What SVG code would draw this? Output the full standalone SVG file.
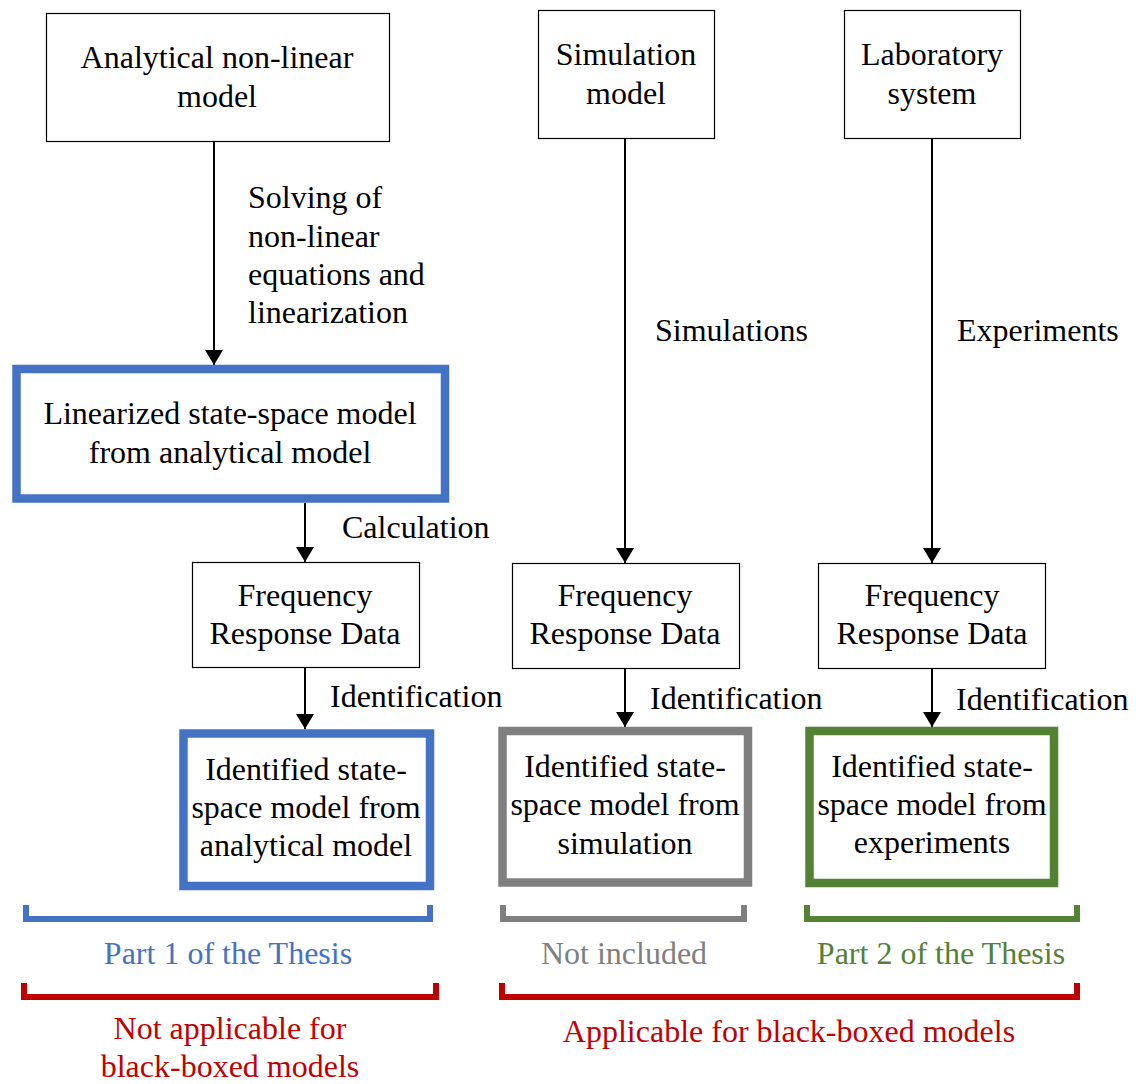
<svg xmlns="http://www.w3.org/2000/svg" width="1136" height="1084" viewBox="0 0 1136 1084">
<defs>
<marker id="ah" viewBox="0 0 15 18" refX="15" refY="9" markerWidth="15" markerHeight="18" markerUnits="userSpaceOnUse" orient="auto">
<path d="M0,0 L15,9 L0,18 z" fill="#000"/>
</marker>
<style>
text{font-family:"Liberation Serif","Times New Roman",serif;font-size:32px;fill:#000}
.c{text-anchor:middle}
.thin{fill:#fff;stroke:#000;stroke-width:1.2}
.blue{fill:#fff;stroke:#4472C4;stroke-width:8.5}
.gray{fill:#fff;stroke:#7F7F7F;stroke-width:8.5}
.green{fill:#fff;stroke:#548235;stroke-width:8.5}
.conn{stroke:#000;stroke-width:2;fill:none;marker-end:url(#ah)}
.br{fill:none;stroke-width:6}
</style>
</defs>
<rect width="1136" height="1084" fill="#fff"/>
<g id="connectors">
<line class="conn" x1="214" y1="141" x2="214" y2="365"/>
<line class="conn" x1="305" y1="503" x2="305" y2="562"/>
<line class="conn" x1="305" y1="667" x2="305" y2="729"/>
<line class="conn" x1="625" y1="138" x2="625" y2="563"/>
<line class="conn" x1="625" y1="668" x2="625" y2="727"/>
<line class="conn" x1="932" y1="138" x2="932" y2="563"/>
<line class="conn" x1="932" y1="668" x2="932" y2="727"/>
<text x="248" y="208">Solving of</text>
<text x="248" y="247">non-linear</text>
<text x="248" y="285">equations and</text>
<text x="248" y="323">linearization</text>
<text x="655" y="341">Simulations</text>
<text x="957" y="341">Experiments</text>
<text x="342" y="538">Calculation</text>
<text x="330" y="707">Identification</text>
<text x="650" y="709">Identification</text>
<text x="956" y="710">Identification</text>
</g>
<g id="analytical">
<rect class="thin" x="46.5" y="13.5" width="343" height="128"/>
<text class="c" x="217" y="68">Analytical non-linear</text>
<text class="c" x="217" y="107">model</text>
</g>
<g id="simulation">
<rect class="thin" x="538.5" y="10.5" width="176" height="128"/>
<text class="c" x="626" y="65">Simulation</text>
<text class="c" x="626" y="104">model</text>
</g>
<g id="laboratory">
<rect class="thin" x="844.5" y="10.5" width="176" height="128"/>
<text class="c" x="932" y="65">Laboratory</text>
<text class="c" x="932" y="104">system</text>
</g>
<g id="linearized">
<rect class="blue" x="16.5" y="369" width="428.5" height="129.5"/>
<text class="c" x="230" y="424">Linearized state-space model</text>
<text class="c" x="230" y="463">from analytical model</text>
</g>
<g id="frd1">
<rect class="thin" x="192.5" y="562.5" width="227" height="105"/>
<text class="c" x="305" y="606">Frequency</text>
<text class="c" x="305" y="644">Response Data</text>
</g>
<g id="frd2">
<rect class="thin" x="512.5" y="563.5" width="227" height="105"/>
<text class="c" x="625" y="606">Frequency</text>
<text class="c" x="625" y="644">Response Data</text>
</g>
<g id="frd3">
<rect class="thin" x="818.5" y="563.5" width="227" height="105"/>
<text class="c" x="932" y="606">Frequency</text>
<text class="c" x="932" y="644">Response Data</text>
</g>
<g id="ident1">
<rect class="blue" x="183.5" y="733.5" width="246.5" height="152.5"/>
<text class="c" x="306" y="780">Identified state-</text>
<text class="c" x="306" y="818">space model from</text>
<text class="c" x="306" y="856">analytical model</text>
</g>
<g id="ident2">
<rect class="gray" x="502.5" y="731" width="245.5" height="151.5"/>
<text class="c" x="625" y="777">Identified state-</text>
<text class="c" x="625" y="815">space model from</text>
<text class="c" x="625" y="854">simulation</text>
</g>
<g id="ident3">
<rect class="green" x="809.5" y="731" width="244.5" height="152"/>
<text class="c" x="932" y="777">Identified state-</text>
<text class="c" x="932" y="815">space model from</text>
<text class="c" x="932" y="853">experiments</text>
</g>
<g id="brackets">
<path class="br" stroke="#4472C4" d="M26,905 V919 H430 V905"/>
<path class="br" stroke="#7F7F7F" d="M503,905 V919 H744 V905"/>
<path class="br" stroke="#548235" d="M807,905 V919 H1077 V905"/>
<path class="br" stroke="#C00000" d="M24,983 V997 H436 V983"/>
<path class="br" stroke="#C00000" d="M502,983 V997 H1077 V983"/>
<text class="c" x="228" y="964" style="fill:#4472C4">Part 1 of the Thesis</text>
<text class="c" x="624" y="964" style="fill:#7F7F7F">Not included</text>
<text class="c" x="941" y="964" style="fill:#538135">Part 2 of the Thesis</text>
<text class="c" x="230" y="1039" style="fill:#C00000">Not applicable for</text>
<text class="c" x="230" y="1077" style="fill:#C00000">black-boxed models</text>
<text class="c" x="789" y="1042" style="fill:#C00000">Applicable for black-boxed models</text>
</g>
</svg>
